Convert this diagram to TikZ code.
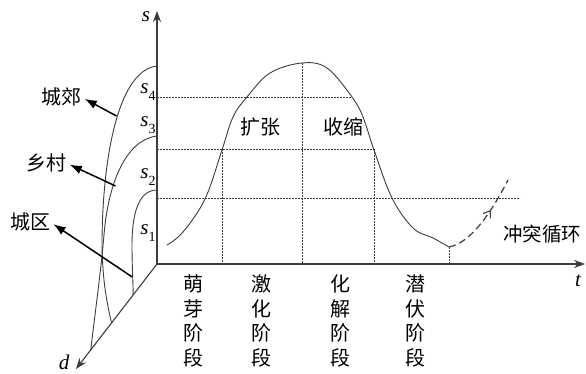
\documentclass[tikz,border=0pt]{standalone}
\usepackage{fontspec}
\newfontfamily\cjk{Noto Sans CJK SC}
\newfontfamily\tms{Liberation Serif}
\usetikzlibrary{arrows.meta,decorations.markings}
\definecolor{axgray}{HTML}{3C3C3C}
\newcommand\sbx[1]{\raisebox{-0.3em}{\upshape\fontsize{14}{14}\selectfont #1}}
\begin{document}
\begin{tikzpicture}[x=1pt,y=-1pt,
  axis/.style={draw=axgray, line width=1.1pt, -{Stealth[length=11pt,width=8pt]}},
  gridl/.style={draw=axgray, line width=0.7pt, dash pattern=on 2pt off 1pt},
  curve/.style={draw=axgray, line width=0.9pt},
  lbl/.style={font=\cjk\fontsize{20}{24.7}\selectfont, align=center, inner sep=0pt},
  ptr/.style={draw=black, line width=1.5pt, -{Latex[length=12pt,width=9pt]}, shorten >=4pt},
  var/.style={font=\tms\itshape\fontsize{21}{21}\selectfont, inner sep=0pt},
  midarrow/.style={postaction={decorate, decoration={markings,
     mark=at position 0.62 with {\arrow[line width=1.1pt]{Straight Barb[length=6pt,width=9pt]}}}}}
]
\useasboundingbox (0,0) rectangle (586,374);
% axes
\coordinate (O) at (157,264);
\coordinate (sT) at (157,11);
\coordinate (tT) at (585,264);
\coordinate (dT) at (76,369);
\draw[axis] (O) -- (sT);
\draw[axis] (O) -- (tT);
\draw[axis] (O) -- (dT);
\node[var] (sl) at (146,17) {s};
\node[var] (tl) at (578,281) {t};
\node[var] (dl) at (64,362) {d};
% s levels
\node[var] (s4) at (148,92) {s\sbx{4}};
\node[var] (s3) at (148,125) {s\sbx{3}};
\node[var] (s2) at (148,177) {s\sbx{2}};
\node[var] (s1) at (148,233) {s\sbx{1}};
% grid lines
\draw[gridl] (157,97) -- (352,97);
\draw[gridl] (157,149) -- (374,149);
\draw[gridl] (157,198) -- (520,198);
\draw[gridl] (222,149) -- (222,264);
\draw[gridl] (302,63) -- (302,264);
\draw[gridl] (374,149) -- (374,264);
\draw[gridl] (449,247) -- (449,264);
% main curve
\draw[curve] plot[smooth, tension=0.6] coordinates {(167,245) (183,232) (205,199) (222,150) (233,117) (247,97) (270,73) (302,63) (327,68) (352,97) (363,117) (374,150) (392,198) (413,228) (433,238) (449,247)};
\coordinate (mn) at (449,247);
\coordinate (cyc) at (508,180);
\draw[curve, line width=1.2pt, dash pattern=on 7pt off 4pt, midarrow] (mn) .. controls (470,243) and (490,215) .. (cyc);
% region labels
\node[lbl] (kz) at (260,127) {扩张};
\node[lbl] (ss) at (343,127) {收缩};
\node[lbl, font=\cjk\fontsize{19.5}{20}\selectfont] (ct) at (542,234) {冲突循环};
% stage labels
\node[lbl] (st1) at (193,321) {萌\\芽\\阶\\段};
\node[lbl] (st2) at (261,321) {激\\化\\阶\\段};
\node[lbl] (st3) at (340,321) {化\\解\\阶\\段};
\node[lbl] (st4) at (415,321) {潜\\伏\\阶\\段};
% left curves
\draw[curve] (157,66) .. controls (120,70) and (103,150) .. (102,240) .. controls (102,275) and (106,300) .. (111.6,323);
\draw[curve] (157,136) .. controls (125,140) and (108,185) .. (104,235) .. controls (100,280) and (94,320) .. (90.8,350);
\draw[curve] (157,190) .. controls (138,190) and (132,215) .. (132,245) .. controls (132,265) and (133,280) .. (133.2,295);
\coordinate (pA) at (116.5,116);
\coordinate (pB) at (115.5,186);
\coordinate (pC) at (132.2,277);
\node[lbl] (jq) at (61,97) {城郊};
\node[lbl] (xc) at (46,163) {乡村};
\node[lbl] (cq) at (30,222) {城区};
\draw[ptr] (pA) -- (jq.east);
\draw[ptr] (pB) -- (xc.east);
\draw[ptr] (pC) -- (cq.east);
\end{tikzpicture}
\end{document}
